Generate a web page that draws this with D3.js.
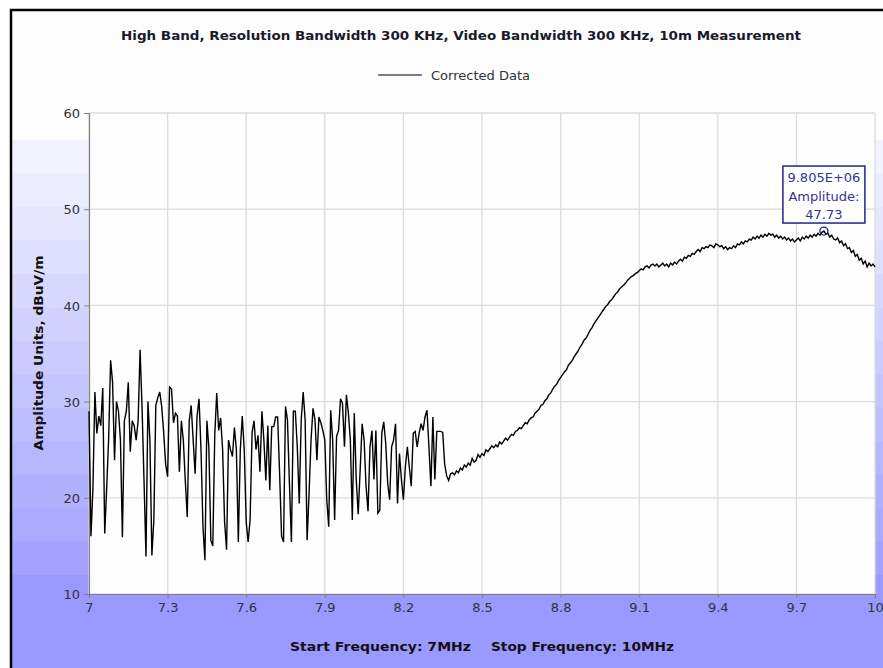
<!DOCTYPE html>
<html>
<head>
<meta charset="utf-8">
<script src="https://cdn.jsdelivr.net/npm/d3@7"></script>
<style>
  body { margin: 0; background: #fff; }
  svg { display: block; font-family: "DejaVu Sans", Verdana, sans-serif; }
</style>
</head>
<body>
<svg id="chart" width="883" height="668"></svg>
<script>
// Sweep settings (MHz)
const startFreq = 7;
const stopFreq = 10;

// Axis ticks
const xTicks = [7, 7.3, 7.6, 7.9, 8.2, 8.5, 8.8, 9.1, 9.4, 9.7, 10];
const yTicks = [10, 20, 30, 40, 50, 60];

// Corrected data, amplitude in dBuV/m, evenly spaced over the sweep
const amplitude = [
  // 7.0 - 8.4 MHz: noise floor
  29, 16, 21, 31, 26.7, 28.5, 27.5, 31.4, 16.3, 21,
  26.2, 34.3, 32, 23.9, 30, 29, 26, 15.9, 28, 29,
  32, 24.8, 28, 27.5, 26, 28, 35.4, 29.4, 21.8, 13.9,
  30, 26, 14, 17.7, 29.6, 30.4, 31, 29.5, 26.8, 23.5,
  22.2, 31.5, 31.3, 27.8, 28.8,
  28.5, 22.7, 28, 26, 21.8, 18, 28, 29.6, 26, 22.5,
  28.5, 30.3, 25, 17, 13.5, 28, 25.2, 15.6, 15, 26.5,
  30.9, 27, 28.3, 25, 17.5, 14.6, 26, 25, 24.3, 27.3,
  25, 15.4, 25, 28.5, 25, 17.5, 15.4, 17.8, 26.8, 28,
  25, 26.5, 22.7, 29, 26, 21.8, 27.5,
  20.8, 27.4, 27.4, 28.4, 28.4, 22.6, 16, 15.4, 29.5, 28.1,
  21.5, 15.4, 29, 29, 25.3, 19.4, 28.1, 31, 28.1, 15.6,
  20.5, 26, 29.3, 28.1, 23.9, 28.4, 27.8, 27, 26, 19.8,
  17, 29.1, 26, 17.7, 26.4, 27, 30.3, 29.8, 25.3, 30.7,
  28.8, 26, 17.7, 28.8, 21.9, 18.3,
  22.9, 27.7, 26, 21.2, 18.6, 25.3, 27, 21.9, 27, 18.4,
  18.7, 26.7, 27.9, 25.7, 21.5, 19.8, 25.3, 26, 27.7, 19.4,
  24.6, 21.9, 19.8, 23.2, 25.3, 23.2, 21.2, 26.7, 26.9, 25.3,
  26.7, 27.7, 27, 28.4, 29.1, 25.3, 21.2, 28.4, 21.9, 26.9,
  26.9, 26.9, 26.8, 23.5, 22.3, 21.8, 22.5, 22.6, 22.4, 22.8,
  // 8.4 - 10 MHz: signal rising
  22.6, 23.1, 22.9, 23.4, 23.2, 23.6,
  23.4, 24.1, 23.7, 23.9, 24.5, 24.2,
  24.6, 24.4, 25.0, 24.8, 25.1, 25.4, 25.2,
  25.5, 25.3, 25.8, 25.6, 25.9, 26.2, 26.0,
  26.3, 26.6, 26.5, 26.9, 27.0, 27.3,
  27.2, 27.5, 27.8, 27.7, 28.1, 28.3, 28.4,
  28.8, 29.0, 29.2, 29.6, 29.7, 30.1, 30.3,
  30.7, 30.9, 31.3, 31.6, 31.8, 32.2, 32.5,
  32.8, 33.1, 33.3, 33.8, 34.0, 34.3,
  34.7, 35.0, 35.3, 35.7, 36.0, 36.4, 36.6,
  37.0, 37.4, 37.7, 38.1, 38.4, 38.7, 39.0,
  39.3, 39.6, 39.9, 40.1, 40.4, 40.6,
  40.9, 41.2, 41.4, 41.7, 41.9, 42.1, 42.3,
  42.6, 42.8, 43.0, 43.1, 43.3, 43.4, 43.6,
  43.8, 43.7, 44.0, 44.1, 43.9, 44.2,
  44.3, 44.1, 44.3, 44.0, 44.2, 44.4, 44.1,
  44.3, 44.0, 44.4, 44.2, 44.5, 44.3, 44.6,
  44.8, 44.6, 45.0, 44.9, 45.2, 45.1,
  45.4, 45.3, 45.6, 45.8, 45.6, 46.0, 45.9,
  46.1, 46.0, 46.3, 46.2, 46.0, 46.4, 46.3,
  46.1, 46.2, 45.9, 46.1, 45.8, 46.0,
  45.9, 46.2, 46.0, 46.4, 46.3, 46.6, 46.4,
  46.7, 46.6, 46.9, 46.8, 47.1, 46.9, 47.2,
  47.0, 47.3, 47.1, 47.4, 47.2, 47.5,
  47.3, 47.4, 47.1, 47.3, 47.0, 47.2, 46.9,
  47.1, 46.8, 47.0, 46.7, 46.9, 46.6, 46.8,
  47.0, 46.7, 47.1, 46.9, 47.2, 47.0,
  47.3, 47.1, 47.4, 47.2, 47.5, 47.3, 47.6,
  47.73,
  47.4, 47.5, 47.1, 47.3, 46.9, 46.8,
  47.0, 46.5, 46.7, 46.2, 46.4, 45.9,
  46.0, 45.5, 45.7, 45.1, 45.3, 44.7, 44.9,
  44.3, 44.6, 44.0, 44.4, 44.1, 44.3, 44.0
];

// Peak marker
const peakFreq = 9.805;
const peakAmp = 47.73;
const peakLabel = ["9.805E+06", "Amplitude:", "47.73"];

const svg = d3.select("#chart");
const width = +svg.attr("width");
const height = +svg.attr("height");

// Plot area
const plot = { left: 89, right: 875, top: 113, bottom: 594 };

const x = d3.scaleLinear().domain([startFreq, stopFreq]).range([plot.left, plot.right]);
const y = d3.scaleLinear().domain([10, 60]).range([plot.bottom, plot.top]);

// sample index -> frequency
const freqOf = d3.scaleLinear()
  .domain([0, amplitude.length - 1])
  .range([startFreq, stopFreq]);

const data = amplitude.map((a, i) => ({ freq: freqOf(i), amp: a }));

// Panel background: white top, banded blue toward the bottom
const panel = svg.append("g");
panel.append("rect")
  .attr("x", 11).attr("y", 10)
  .attr("width", width).attr("height", height)
  .attr("fill", "#fdfdfd");

const bandTop = 140;
const bandBottom = 575;
const bandCount = 13;
const bandH = (bandBottom - bandTop) / bandCount;
const bandColor = d3.interpolateRgb("#f3f3ff", "#a3a3ff");

panel.selectAll(".band")
  .data(d3.range(bandCount))
  .enter()
  .append("rect")
  .attr("class", "band")
  .attr("x", 11)
  .attr("y", i => bandTop + i * bandH)
  .attr("width", width)
  .attr("height", bandH + 0.5)
  .attr("fill", i => bandColor(i / (bandCount - 1)));

panel.append("rect")
  .attr("x", 11).attr("y", bandBottom)
  .attr("width", width).attr("height", height - bandBottom)
  .attr("fill", "#9999ff");

// Black frame (only top and left edges are on screen)
svg.append("rect")
  .attr("x", 11).attr("y", 10)
  .attr("width", width + 20).attr("height", height + 20)
  .attr("fill", "none")
  .attr("stroke", "#000")
  .attr("stroke-width", 2.5);

// Plot background
svg.append("rect")
  .attr("x", plot.left).attr("y", plot.top)
  .attr("width", plot.right - plot.left)
  .attr("height", plot.bottom - plot.top)
  .attr("fill", "#fefefe");

// Gridlines
const grid = svg.append("g")
  .attr("stroke", "#dcdcdc")
  .attr("stroke-width", 1.3);

grid.selectAll(".vgrid")
  .data(xTicks)
  .enter()
  .append("line")
  .attr("x1", d => x(d)).attr("x2", d => x(d))
  .attr("y1", plot.top).attr("y2", plot.bottom);

grid.selectAll(".hgrid")
  .data(yTicks)
  .enter()
  .append("line")
  .attr("x1", plot.left).attr("x2", plot.right)
  .attr("y1", d => y(d)).attr("y2", d => y(d));

// Axes
const xAxis = d3.axisBottom(x)
  .tickValues(xTicks)
  .tickSize(4)
  .tickPadding(5)
  .tickFormat(d => d3.format("~g")(d));

const yAxis = d3.axisLeft(y)
  .tickValues(yTicks)
  .tickSize(5)
  .tickPadding(4);

const gx = svg.append("g")
  .attr("transform", `translate(0,${plot.bottom})`)
  .call(xAxis);

const gy = svg.append("g")
  .attr("transform", `translate(${plot.left},0)`)
  .call(yAxis);

[gx, gy].forEach(g => {
  g.select(".domain").attr("stroke", "#808080").attr("stroke-width", 1.2);
  g.selectAll(".tick line").attr("stroke", "#808080");
  g.selectAll(".tick text")
    .attr("fill", "#333")
    .attr("font-size", "13px")
    .attr("font-family", "DejaVu Sans, Verdana, sans-serif");
});
gy.selectAll(".tick text").attr("dy", "0.36em");

// Data line
const line = d3.line()
  .x(d => x(d.freq))
  .y(d => y(d.amp));

svg.append("path")
  .datum(data)
  .attr("d", line)
  .attr("fill", "none")
  .attr("stroke", "#000")
  .attr("stroke-width", 1.4)
  .attr("stroke-linejoin", "miter");

// Peak marker and label box
const px = x(peakFreq);
const py = y(peakAmp);

svg.append("circle")
  .attr("cx", px).attr("cy", py)
  .attr("r", 4)
  .attr("fill", "none")
  .attr("stroke", "#22228a")
  .attr("stroke-width", 1.3);

svg.append("rect")
  .attr("x", px - 41).attr("y", py - 65)
  .attr("width", 82).attr("height", 57)
  .attr("fill", "#fff")
  .attr("stroke", "#22228a")
  .attr("stroke-width", 1.5);

svg.append("g")
  .selectAll("text")
  .data(peakLabel)
  .enter()
  .append("text")
  .attr("x", px)
  .attr("y", (d, i) => py - 49 + i * 18.5)
  .attr("text-anchor", "middle")
  .attr("font-size", "13px")
  .attr("fill", "#33339a")
  .text(d => d);

// Title
svg.append("text")
  .attr("x", 461)
  .attr("y", 40)
  .attr("text-anchor", "middle")
  .attr("font-size", "13px")
  .attr("font-weight", "bold")
  .attr("fill", "#1a1a2a")
  .attr("textLength", 680)
  .attr("lengthAdjust", "spacingAndGlyphs")
  .text("High Band, Resolution Bandwidth 300 KHz, Video Bandwidth 300 KHz, 10m Measurement");

// Legend
svg.append("line")
  .attr("x1", 378).attr("x2", 422)
  .attr("y1", 75).attr("y2", 75)
  .attr("stroke", "#000")
  .attr("stroke-width", 1);

svg.append("text")
  .attr("x", 431)
  .attr("y", 79.5)
  .attr("font-size", "12px")
  .attr("fill", "#333")
  .attr("textLength", 99)
  .attr("lengthAdjust", "spacingAndGlyphs")
  .text("Corrected Data");

// Y axis title
svg.append("text")
  .attr("transform", "translate(43,353) rotate(-90)")
  .attr("text-anchor", "middle")
  .attr("font-size", "13px")
  .attr("font-weight", "bold")
  .attr("fill", "#111")
  .attr("textLength", 195)
  .attr("lengthAdjust", "spacingAndGlyphs")
  .text("Amplitude Units, dBuV/m");

// X axis title
svg.append("text")
  .attr("x", 290)
  .attr("y", 651)
  .attr("font-size", "13px")
  .attr("font-weight", "bold")
  .attr("fill", "#111")
  .attr("textLength", 181)
  .attr("lengthAdjust", "spacingAndGlyphs")
  .text("Start Frequency: 7MHz");

svg.append("text")
  .attr("x", 491)
  .attr("y", 651)
  .attr("font-size", "13px")
  .attr("font-weight", "bold")
  .attr("fill", "#111")
  .attr("textLength", 183)
  .attr("lengthAdjust", "spacingAndGlyphs")
  .text("Stop Frequency: 10MHz");
</script>
</body>
</html>
